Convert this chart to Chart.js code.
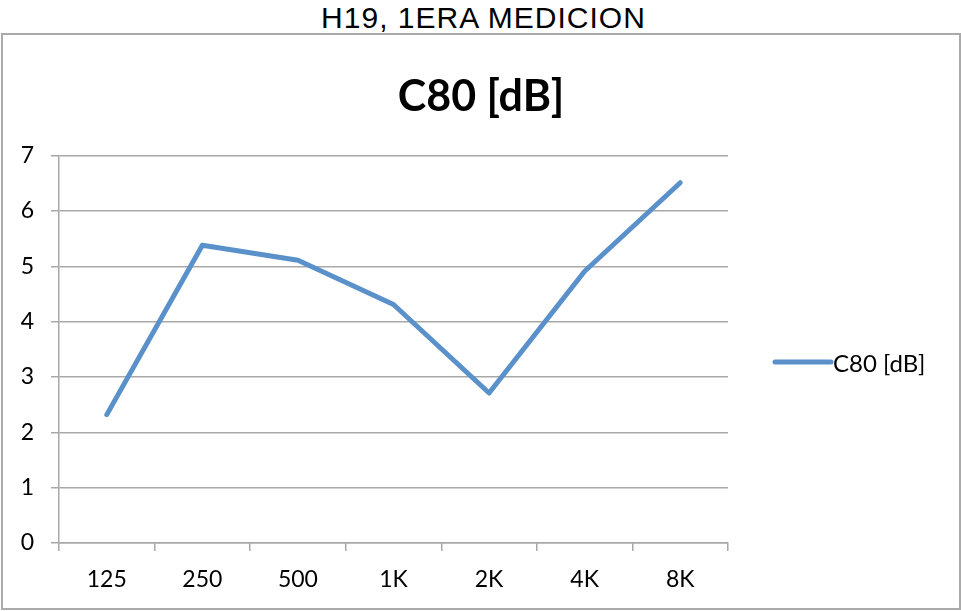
<!DOCTYPE html>
<html>
<head>
<meta charset="utf-8">
<script src="https://cdn.jsdelivr.net/npm/chart.js@4.4.1/dist/chart.umd.min.js"></script>
<style>
    html, body { margin: 0; padding: 0; background: #fff; }
    body { width: 961px; height: 611px; position: relative; overflow: hidden; }
    #titulo {
        position: absolute; left: 0; top: 0; width: 961px; padding-left: 6px; box-sizing: border-box;
        text-align: center; font-family: "Liberation Sans", Arial, sans-serif;
        font-size: 30px; line-height: 36px; letter-spacing: 1px; color: #000;
    }
    #caja {
        position: absolute; left: 1px; top: 33px; width: 960px; height: 577px;
        border: 2px solid #aaaaaa; box-sizing: border-box;
    }
    #grafico { display: block; }
</style>
</head>
<body>
<div id="titulo">H19, 1ERA MEDICION</div>
<div id="caja"><canvas id="grafico" width="956" height="573"></canvas></div>
<script>
// datos del gráfico
const bandas = ['125', '250', '500', '1K', '2K', '4K', '8K'];
const valoresC80 = [2.32, 5.38, 5.11, 4.31, 2.71, 4.91, 6.51];
const nombreSerie = 'C80 [dB]';
const tituloGrafico = 'C80 [dB]';
const ejeYMin = 0;
const ejeYMax = 7;
const pasoY = 1;

const colorLinea = '#5b91ca';
const colorGris = '#a8a8a8';
const fuente = 'Lato, "Open Sans", sans-serif';

// leyenda a la derecha (línea + texto)
const leyenda = {
    id: 'leyenda',
    afterDraw(chart) {
        const ctx = chart.ctx;
        const area = chart.chartArea;
        const ds = chart.data.datasets[0];
        const x0 = area.right + 47;
        const y = 327;
        ctx.save();
        ctx.strokeStyle = ds.borderColor;
        ctx.lineWidth = 5;
        ctx.lineCap = 'round';
        ctx.beginPath();
        ctx.moveTo(x0, y);
        ctx.lineTo(x0 + 56, y);
        ctx.stroke();
        ctx.fillStyle = '#000';
        ctx.font = '24px ' + fuente;
        ctx.textAlign = 'left';
        ctx.textBaseline = 'middle';
        ctx.fillText(ds.label, x0 + 58, y + 2);
        ctx.restore();
    }
};

const ctx = document.getElementById('grafico').getContext('2d');
const grafico = new Chart(ctx, {
    type: 'line',
    data: {
        labels: bandas,
        datasets: [{
            label: nombreSerie,
            data: valoresC80,
            borderColor: colorLinea,
            backgroundColor: colorLinea,
            borderWidth: 5,
            borderCapStyle: 'round',
            borderJoinStyle: 'round',
            pointRadius: 0,
            tension: 0,
            fill: false
        }]
    },
    options: {
        responsive: false,
        animation: false,
        events: [],
        layout: { padding: 0 },
        plugins: {
            legend: { display: false },
            tooltip: { enabled: false },
            title: {
                display: true,
                text: tituloGrafico,
                color: '#000',
                font: { family: fuente, size: 43, weight: 'bold', lineHeight: 1.2 },
                padding: { top: 36, bottom: 33 }
            }
        },
        scales: {
            x: {
                offset: true,
                grid: {
                    offset: true,
                    drawOnChartArea: false,
                    drawTicks: true,
                    tickLength: 8,
                    color: colorGris,
                    lineWidth: 1.5
                },
                border: { color: colorGris, width: 1.5 },
                ticks: {
                    color: '#000',
                    font: { family: fuente, size: 23 },
                    padding: 15,
                    maxRotation: 0
                },
                afterFit(scale) { scale.height = 65; }
            },
            y: {
                min: ejeYMin,
                max: ejeYMax,
                grid: {
                    color: colorGris,
                    lineWidth: 1.5,
                    tickLength: 8
                },
                border: { color: colorGris, width: 1.5 },
                ticks: {
                    stepSize: pasoY,
                    color: '#000',
                    font: { family: fuente, size: 23 },
                    padding: 17
                },
                afterFit(scale) { scale.width = 56; }
            },
            // espacio reservado para la leyenda
            derecha: {
                position: 'right',
                min: ejeYMin,
                max: ejeYMax,
                grid: { drawOnChartArea: false, drawTicks: false },
                border: { display: false },
                ticks: { display: false },
                afterFit(scale) { scale.width = 231; }
            }
        }
    },
    plugins: [leyenda]
});
</script>
</body>
</html>
